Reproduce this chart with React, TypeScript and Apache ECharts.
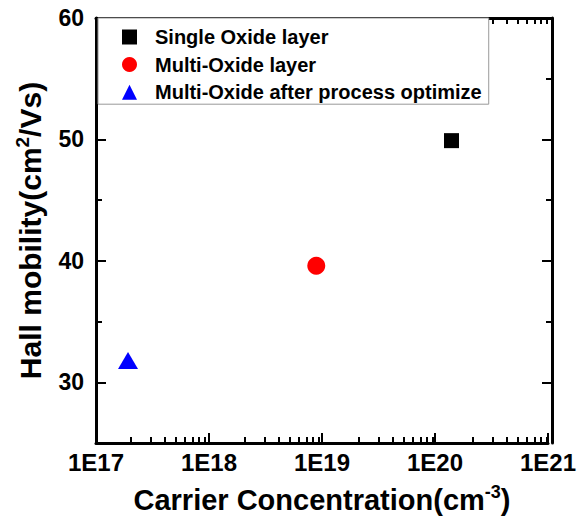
import React, { useEffect, useRef } from "react";
import * as echarts from "echarts";

const seriesNames = ["Single Oxide layer", "Multi-Oxide layer", "Multi-Oxide after process optimize"];
const carrierConcentration = [1.4e20, 8.9e18, 1.92e17];
const hallMobility = [49.9, 39.6, 31.8];
const seriesSymbols = ["rect", "circle", "triangle"];
const seriesColors = ["#000000", "#ff0000", "#0000ff"];
const xTickLabels = ["1E17", "1E18", "1E19", "1E20", "1E21"];
const xDecadeExponents = [17, 18, 19, 20, 21];
const xMinorMantissas = [2, 3, 4, 5, 6, 7, 8, 9];
const yMajorTicks = [30, 40, 50, 60];
const yMinorTicks = [35, 45, 55];

const FONT = "'Liberation Sans', Arial, sans-serif";

export default function App() {
  const ref = useRef<HTMLDivElement>(null);
  useEffect(() => {
    if (!ref.current) return;
    const chart = echarts.init(ref.current, undefined, { renderer: "svg" });
    const xMinorPositions: number[] = [];
    xDecadeExponents.slice(0, -1).forEach((d) =>
      xMinorMantissas.forEach((m) => xMinorPositions.push(d + Math.log10(m)))
    );
    const gridRect = { left: 96, top: 18, width: 456, height: 425, containLabel: false };
    const lineStyle = { color: "#000", width: 3 };
    const hiddenLine = { show: false };
    const noLabel = { show: false };
    const noSplit = { show: false };
    const majorTick = (vals: number[]) => ({ show: true, inside: true, length: 10, customValues: vals, lineStyle: { color: "#000", width: 2 } });
    const minorTick = (vals: number[]) => ({ show: true, inside: true, length: 6, customValues: vals, lineStyle: { color: "#000", width: 2 } });
    const xMin = xDecadeExponents[0];
    const xMax = xDecadeExponents[xDecadeExponents.length - 1];
    const yMin = 25;
    const yMax = 60;

    const xTitleRich = {
      a: { fontSize: 29, fontWeight: "bold", fontFamily: FONT, color: "#000", lineHeight: 33 },
      s: { fontSize: 18, fontWeight: "bold", fontFamily: FONT, color: "#000", verticalAlign: "top", lineHeight: 18 },
    };
    const yTitleRich = {
      a: { fontSize: 30, fontWeight: "bold", fontFamily: FONT, color: "#000", lineHeight: 34 },
      s: { fontSize: 19, fontWeight: "bold", fontFamily: FONT, color: "#000", verticalAlign: "top", lineHeight: 19 },
    };

    const option: any = {
      animation: false,
      backgroundColor: "#fff",
      grid: [gridRect, gridRect, gridRect, gridRect],
      legend: {
        orient: "vertical",
        left: 98,
        top: 18,
        padding: [9, 7, 2, 24],
        itemGap: 7.6,
        itemWidth: 15,
        itemHeight: 15,
        symbolKeepAspect: true,
        backgroundColor: "#fff",
        borderColor: "#999",
        borderWidth: 1,
        textStyle: { fontSize: 20, fontWeight: "bold", fontFamily: FONT, color: "#000", lineHeight: 20, padding: [0, 0, 0, 13] },
        data: seriesNames.map((n, i) => ({ name: n, icon: seriesSymbols[i] })),
      },
      xAxis: [
        {
          gridIndex: 0,
          type: "log",
          logBase: 10,
          min: Math.pow(10, xMin),
          max: Math.pow(10, xMax),
          axisLine: { show: true, onZero: false, lineStyle },
          axisTick: { show: true, inside: true, length: 10, lineStyle: { color: "#000", width: 2 } },
          axisLabel: {
            fontSize: 24,
            fontWeight: "bold",
            fontFamily: FONT,
            color: "#000",
            margin: 7,
            formatter: (v: number) => xTickLabels[Math.round(Math.log10(v)) - xMin] ?? "",
          },
          splitLine: noSplit,
          name: "{a|Carrier Concentration(cm}{s|-3}{a|)}",
          nameLocation: "middle",
          nameGap: 40,
          nameTextStyle: { rich: xTitleRich },
        },
        {
          gridIndex: 1, type: "value", min: xMin, max: xMax, position: "bottom",
          axisLine: hiddenLine, axisLabel: noLabel, splitLine: noSplit, axisTick: minorTick(xMinorPositions),
        },
        {
          gridIndex: 2, type: "value", min: xMin, max: xMax, position: "top",
          axisLine: { show: true, onZero: false, lineStyle }, axisLabel: noLabel, splitLine: noSplit,
          axisTick: majorTick(xDecadeExponents),
        },
        {
          gridIndex: 3, type: "value", min: xMin, max: xMax, position: "top",
          axisLine: hiddenLine, axisLabel: noLabel, splitLine: noSplit, axisTick: minorTick(xMinorPositions),
        },
      ],
      yAxis: [
        {
          gridIndex: 0,
          type: "value",
          min: yMin,
          max: yMax,
          axisLine: { show: true, onZero: false, lineStyle },
          axisTick: majorTick(yMajorTicks),
          axisLabel: {
            customValues: yMajorTicks,
            fontSize: 23,
            fontWeight: "bold",
            fontFamily: FONT,
            color: "#000",
            margin: 12,
          },
          splitLine: noSplit,
          name: "{a|Hall mobility(cm}{s|2}{a|/Vs)}",
          nameLocation: "middle",
          nameGap: 49,
          nameTextStyle: { rich: yTitleRich },
        },
        {
          gridIndex: 1, type: "value", min: yMin, max: yMax, position: "left",
          axisLine: hiddenLine, axisLabel: noLabel, splitLine: noSplit, axisTick: minorTick(yMinorTicks),
        },
        {
          gridIndex: 2, type: "value", min: yMin, max: yMax, position: "right",
          axisLine: { show: true, onZero: false, lineStyle }, axisLabel: noLabel, splitLine: noSplit,
          axisTick: majorTick(yMajorTicks),
        },
        {
          gridIndex: 3, type: "value", min: yMin, max: yMax, position: "right",
          axisLine: hiddenLine, axisLabel: noLabel, splitLine: noSplit, axisTick: minorTick(yMinorTicks),
        },
      ],
      series: seriesNames.map((n, i) => ({
        name: n,
        type: "scatter",
        xAxisIndex: 0,
        yAxisIndex: 0,
        symbol: seriesSymbols[i],
        symbolSize: i === 0 ? 15 : i === 1 ? 18 : [20, 17],
        itemStyle: { color: seriesColors[i], opacity: 1 },
        data: [[carrierConcentration[i], hallMobility[i]]],
      })),
    };
    chart.setOption(option);
    return () => chart.dispose();
  }, []);
  return <div ref={ref} style={{ width: 579, height: 519, position: "absolute", left: 0, top: 0 }} />;
}
